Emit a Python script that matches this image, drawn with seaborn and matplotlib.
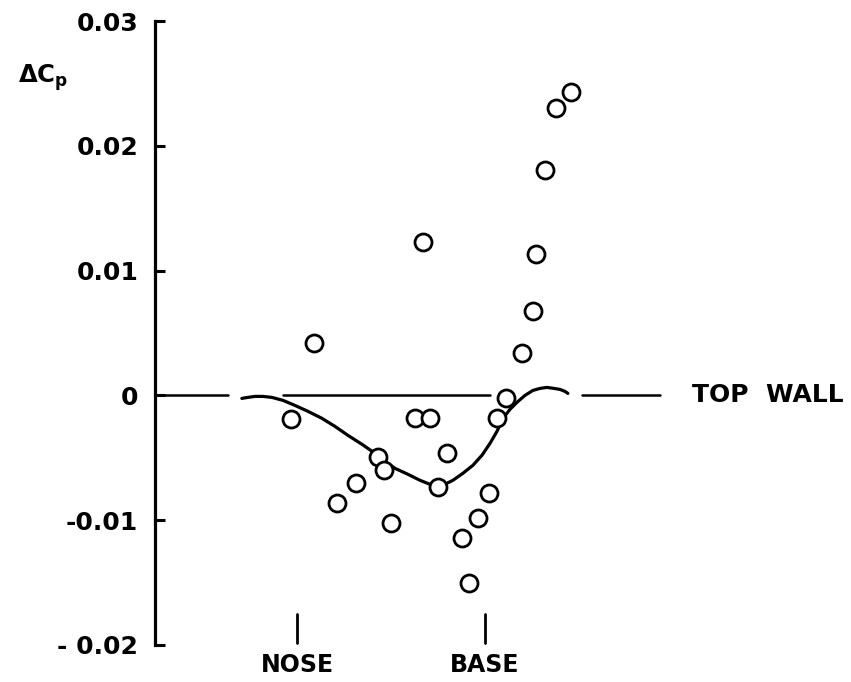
import matplotlib
matplotlib.use("Agg")
import matplotlib.pyplot as plt
import pandas as pd
import seaborn as sns

# Station along the body (0 = nose, 1 = base) and measured pressure increment
station = [-0.032, 0.090, 0.213, 0.314, 0.431, 0.463, 0.500, 0.628, 0.670, 0.707,
           0.750, 0.798, 0.878, 0.915, 0.963, 1.021, 1.064, 1.112, 1.197, 1.255,
           1.271, 1.319, 1.378, 1.457]
delta_cp = [-0.0019, 0.0042, -0.0086, -0.0070, -0.0049, -0.0060, -0.0102, -0.0018,
            0.0123, -0.0018, -0.0073, -0.0046, -0.0114, -0.0150, -0.0098, -0.0078,
            -0.0018, -0.0002, 0.0034, 0.0068, 0.0113, 0.0181, 0.0230, 0.0243]

# Faired theoretical curve
curve_station = [-0.293, -0.261, -0.223, -0.181, -0.133, -0.074, -0.011, 0.059,
                 0.133, 0.202, 0.271, 0.346, 0.415, 0.468, 0.521, 0.590, 0.654,
                 0.707, 0.745, 0.787, 0.830, 0.883, 0.936, 0.984, 1.027, 1.064,
                 1.096, 1.133, 1.170, 1.213, 1.255, 1.293, 1.330, 1.367, 1.399,
                 1.426, 1.441]
curve_cp = [-0.00024, -0.00016, -0.00008, -0.00008, -0.00016, -0.0004, -0.0008,
            -0.00128, -0.00184, -0.00248, -0.0032, -0.00392, -0.00464, -0.00528,
            -0.00584, -0.00632, -0.0068, -0.00712, -0.00728, -0.00712, -0.0068,
            -0.00624, -0.0056, -0.0048, -0.00384, -0.00288, -0.00184, -0.00112,
            -0.00056, 0.0, 0.0004, 0.00056, 0.00064, 0.00056, 0.00048, 0.00032,
            0.00016]

# Zero reference line (top wall), drawn in pieces
wall_start = [-0.755, -0.0745, 1.516]
wall_end = [-0.367, 1.027, 1.931]

y_ticks = [-0.02, -0.01, 0.0, 0.01, 0.02, 0.03]
y_tick_labels = ["- 0.02", "-0.01", "0", "0.01", "0.02", "0.03"]
body_marks = [0.0, 1.0]
body_labels = ["NOSE", "BASE"]

sns.set_theme(style="white")
plt.rcParams["font.family"] = ["DejaVu Sans"]
plt.rcParams["font.weight"] = "bold"
plt.rcParams["mathtext.default"] = "regular"

fig = plt.figure(figsize=(8.51, 6.82), dpi=100)
ax = fig.add_axes([155 / 851, 37 / 682, 696 / 851, 624 / 682])

points = pd.DataFrame({"station": station, "dcp": delta_cp})
curve = pd.DataFrame({"station": curve_station, "dcp": curve_cp})

for x0, x1 in zip(wall_start, wall_end):
    ax.plot([x0, x1], [0, 0], color="black", lw=1.8, solid_capstyle="round", zorder=1)

sns.lineplot(data=curve, x="station", y="dcp", ax=ax, color="black", lw=2.3,
             sort=False, estimator=None, zorder=2)
ax.lines[-1].set_solid_capstyle("round")
ax.lines[-1].set_solid_joinstyle("round")
sns.scatterplot(data=points, x="station", y="dcp", ax=ax, s=150, marker="o",
                facecolor="white", edgecolor="black", linewidth=2.0, zorder=3)

ax.set_xlim(-0.755, 2.947)
ax.set_ylim(-0.02, 0.03)
ax.set_yticks(y_ticks)
ax.set_yticklabels(y_tick_labels)
ax.set_xticks([])
ax.set_xlabel("")
ax.set_ylabel("")

for side in ["top", "right", "bottom"]:
    ax.spines[side].set_visible(False)
ax.spines["left"].set_linewidth(2.3)
ax.spines["left"].set_color("black")
ax.tick_params(axis="y", left=True, direction="in", length=7, width=2.2, pad=12,
               labelsize=18, colors="black")

ax.text(2.101, 0, "TOP  WALL", ha="left", va="center", fontsize=18,
        color="black", fontweight="bold", clip_on=False)

for xm, lab in zip(body_marks, body_labels):
    ax.plot([xm, xm], [-0.0175, -0.0198], color="black", lw=2.0, clip_on=False)
    ax.text(xm, -0.0216, lab, ha="center", va="center", fontsize=17,
            color="black", fontweight="bold", clip_on=False)

fig.text(18 / 851, 1 - 78 / 682, r"$\Delta C_p$", ha="left",
         va="center", fontsize=17.5, color="black", fontweight="bold")

fig.savefig("out.png", dpi=100)
